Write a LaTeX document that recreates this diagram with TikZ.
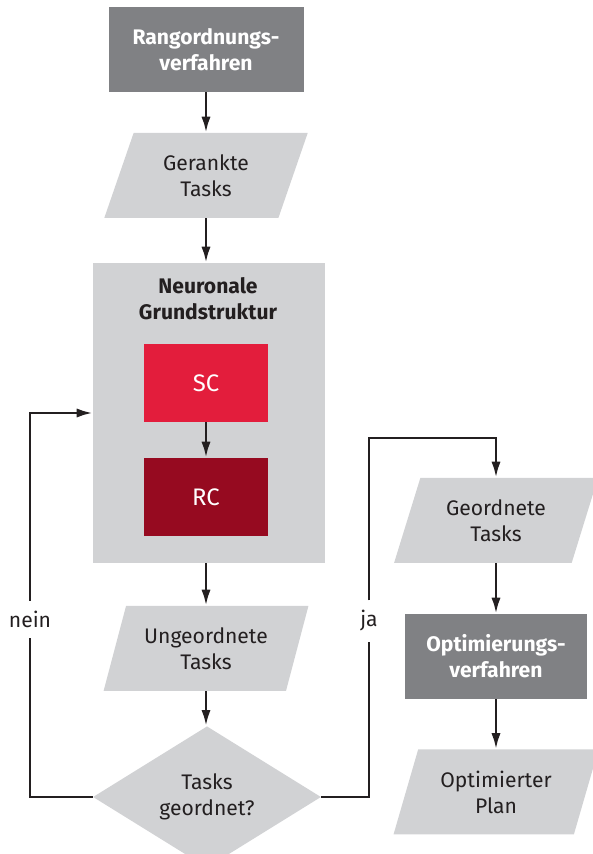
\documentclass[tikz,border=0pt]{standalone}
\usepackage{fontspec}
\setmainfont{Fira Sans}
\usepackage{xcolor}
\usetikzlibrary{arrows.meta,shapes.geometric}

\definecolor{boxdunkel}{RGB}{128,129,132}
\definecolor{boxhell}{RGB}{209,210,212}
\definecolor{scrot}{RGB}{227,29,60}
\definecolor{rcrot}{RGB}{150,10,32}
\definecolor{schrift}{RGB}{35,31,32}

\newcommand{\schriftgrad}{\fontsize{15}{18.5}\selectfont}

\tikzset{
  verfahren/.style={rectangle, fill=boxdunkel, text=white, font=\schriftgrad\bfseries, align=center, minimum height=2.125cm, inner sep=0pt},
  daten/.style={trapezium, trapezium left angle=67.6, trapezium right angle=112.4, trapezium stretches=true, fill=boxhell, text=schrift, align=center, minimum width=5.125cm, minimum height=2.125cm, inner sep=0pt},
  zelle/.style={rectangle, text=white, font=\fontsize{17}{20}\selectfont, minimum width=3.1cm, minimum height=1.95cm, inner sep=0pt},
  entscheidung/.style={diamond, fill=boxhell, text=schrift, align=center, minimum width=5.7cm, minimum height=3.2cm, inner sep=0pt},
  pfeil/.style={-{Latex[length=4mm,width=2.3mm]}, line width=1.9pt, color=schrift},
  linie/.style={line width=1.9pt, color=schrift},
  marke/.style={text=schrift, inner xsep=0pt, inner ysep=0.25cm},
}

\begin{document}
\begin{tikzpicture}[font=\schriftgrad]
%%%%% Rahmen %%%%%
\useasboundingbox (0,0) rectangle (14.8,21.35);
%%%%% Linke Spalte %%%%%
\node[verfahren, minimum width=4.875cm] (rang) at (5.15,20.1125) {Rangordnungs-\\verfahren};
\node[daten] (gerankt) at (5.15,16.9625) {Gerankte\\Tasks};
\node[fill=boxhell, minimum width=5.8cm, minimum height=7.5cm, inner sep=0pt] (netz) at (5.225,11.025) {};
\node[text=schrift, font=\schriftgrad\bfseries, align=center] (netztitel) at (5.2,13.875) {Neuronale\\Grundstruktur};
\node[zelle, fill=scrot] (sc) at (5.15,11.775) {SC};
\node[zelle, fill=rcrot] (rc) at (5.15,8.925) {RC};
\node[daten] (ungeordnet) at (5.15,5.1375) {Ungeordnete\\Tasks};
\node[entscheidung] (frage) at (5.175,1.425) {Tasks\\geordnet?};
%%%%% Rechte Spalte %%%%%
\node[daten] (geordnet) at (12.4,8.3375) {Geordnete\\Tasks};
\node[verfahren, minimum width=4.55cm] (opt) at (12.4,4.9375) {Optimierungs-\\verfahren};
\node[daten] (plan) at (12.4,1.55) {Optimierter\\Plan};
%%%%% Pfeile %%%%%
\foreach \a/\b in {rang/gerankt, gerankt/netz, sc/rc, ungeordnet/frage, geordnet/opt, opt/plan}{
\draw[pfeil] (\a.south) -- (\a.south |- \b.north);
}
\draw[pfeil] (ungeordnet.north |- netz.south) -- (ungeordnet.north);
%%%%% Schleifen %%%%%
\node[marke] (nein) at (0.75,5.86) {nein};
\node[marke] (ja) at (9.225,5.825) {ja};
\coordinate (jaecke) at (9.225,10.4);
\draw[linie] (frage.west) -| (nein);
\draw[pfeil] (nein) |- (netz.west);
\draw[linie] (frage.east) -| (ja);
\draw[pfeil] (ja) -- (jaecke) -| (geordnet.north);
\end{tikzpicture}
\end{document}
